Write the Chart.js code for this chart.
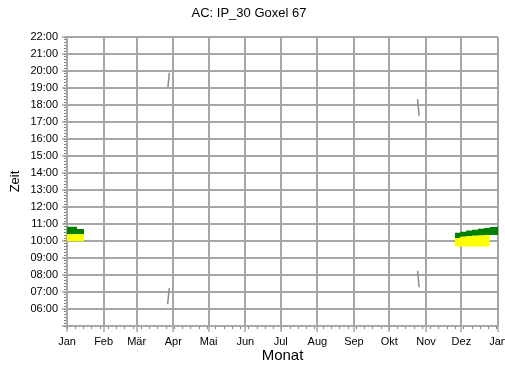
<!DOCTYPE html>
<html>
<head>
<meta charset="utf-8">
<script src="https://cdn.jsdelivr.net/npm/chart.js@4.4.1/dist/chart.umd.min.js"></script>
<style>
  body { margin: 0; background: #fff; }
  canvas { display: block; }
</style>
</head>
<body>
<canvas id="grafico" width="505" height="365"></canvas>
<script>
// Achsen: Tag im Jahr (0..365) gegen Uhrzeit in Stunden
const monatStart = [0, 31, 59, 90, 120, 151, 181, 212, 243, 273, 304, 334, 365];
const monatNamen = ['Jan', 'Feb', 'Mär', 'Apr', 'Mai', 'Jun', 'Jul', 'Aug', 'Sep', 'Okt', 'Nov', 'Dez', 'Jan'];

// Januar-Block
const janTage = [0, 8.5, 13, 14.4];
const janGruenOben = [10.84, 10.84, 10.71, 10.71];
const janGelbOben = [10.39, 10.39, 10.39, 10.39];
const janGelbUnten = [9.81, 9.98, 9.98, 9.98];

// Dezember-Block
const dezTage = [328.5, 333, 338, 343, 348, 353, 358, 363.8, 365];
const dezGruenOben = [10.35, 10.48, 10.55, 10.62, 10.66, 10.72, 10.77, 10.82, 10.84];
const dezGelbOben = [10.1, 10.18, 10.25, 10.28, 10.31, 10.33, 10.35, 10.36, 10.36];
const dezGelbUnten = [9.68, 9.68, 9.68, 9.68, 9.68, 9.68, 9.68, 10.36, 10.36];

// kurze graue Striche (Zeitumstellung)
const aprAbendTage = [85.5, 86.6];
const aprAbend = [19.04, 19.9];
const aprMorgenTage = [85.2, 86.6];
const aprMorgen = [6.28, 7.22];
const oktAbendTage = [296.9, 298.2];
const oktAbend = [18.35, 17.37];
const oktMorgenTage = [296.9, 298.2];
const oktMorgen = [8.24, 7.28];

const GRUEN = '#008000';
const GELB = '#ffff00';
const GRAU = '#8c8c8c';
const GITTER = '#a6a6a6';

Chart.defaults.font.family = "'Liberation Sans', Arial, sans-serif";
Chart.defaults.color = '#000';

const punkte = (xs, ys) => xs.map((x, i) => ({ x: x, y: ys[i] }));

function flaeche(xs, ys, fill, farbe) {
  return {
    data: punkte(xs, ys),
    stepped: 'after',
    fill: fill,
    backgroundColor: farbe,
    borderColor: 'transparent',
    borderWidth: 0,
    pointRadius: 0
  };
}

function strich(xs, ys) {
  return {
    data: punkte(xs, ys),
    fill: false,
    borderColor: GRAU,
    borderWidth: 1.5,
    pointRadius: 0
  };
}

const zweistellig = v => (v < 10 ? '0' : '') + v;

new Chart(document.getElementById('grafico'), {
  type: 'line',
  data: {
    datasets: [
      flaeche(janTage, janGelbUnten, false, 'transparent'),
      flaeche(janTage, janGelbOben, '-1', GELB),
      flaeche(janTage, janGruenOben, '-1', GRUEN),
      flaeche(dezTage, dezGelbUnten, false, 'transparent'),
      flaeche(dezTage, dezGelbOben, '-1', GELB),
      flaeche(dezTage, dezGruenOben, '-1', GRUEN),
      strich(aprAbendTage, aprAbend),
      strich(aprMorgenTage, aprMorgen),
      strich(oktAbendTage, oktAbend),
      strich(oktMorgenTage, oktMorgen)
    ]
  },
  options: {
    responsive: false,
    animation: false,
    layout: { padding: { left: 0, right: 7, top: 0, bottom: 0 } },
    plugins: {
      legend: { display: false },
      tooltip: { enabled: false },
      title: {
        display: true,
        text: 'AC: IP_30 Goxel 67',
        font: { size: 13, weight: 'normal' },
        color: '#000',
        padding: { top: 6, bottom: 15.4 }
      }
    },
    scales: {
      x: {
        type: 'linear',
        position: 'bottom',
        min: 0,
        max: 365,
        weight: 1,
        grid: { color: GITTER, lineWidth: 2, tickLength: 6, tickColor: '#808080', tickWidth: 1 },
        border: { color: GITTER, width: 2 },
        ticks: {
          font: { size: 11 },
          color: '#000',
          padding: 3,
          maxRotation: 0,
          autoSkip: false,
          callback: (v, i) => monatNamen[i]
        },
        title: { display: true, text: 'Monat', font: { size: 15 }, color: '#000', padding: { top: 0, bottom: 0 } },
        afterBuildTicks: s => { s.ticks = monatStart.map(v => ({ value: v })); },
        afterFit: s => { s.height = 39; s.paddingLeft = 0; s.paddingRight = 0; }
      },
      xWoche: {
        type: 'linear',
        position: 'bottom',
        min: 0,
        max: 365,
        weight: 0,
        grid: { drawOnChartArea: false, tickLength: 3, tickColor: '#808080', tickWidth: 1 },
        border: { display: false },
        ticks: { display: false },
        afterBuildTicks: s => {
          const t = [];
          for (let d = 0; d <= 365; d += 7) t.push({ value: d });
          s.ticks = t;
        },
        afterFit: s => { s.height = 0; s.paddingLeft = 0; s.paddingRight = 0; }
      },
      y: {
        type: 'linear',
        position: 'left',
        min: 5,
        max: 22,
        weight: 1,
        grid: { color: GITTER, lineWidth: 2, tickLength: 5, tickColor: '#808080', tickWidth: 1 },
        border: { color: GITTER, width: 2 },
        ticks: {
          font: { size: 11 },
          color: '#000',
          padding: 4,
          stepSize: 1,
          autoSkip: false,
          callback: v => (v === 5 ? '' : zweistellig(v) + ':00')
        },
        title: { display: true, text: 'Zeit', font: { size: 13 }, color: '#000', padding: { top: 7.5, bottom: 0 } },
        afterFit: s => { s.width = 67; s.paddingTop = 0; s.paddingBottom = 0; }
      },
      yMinuten: {
        type: 'linear',
        position: 'left',
        min: 5,
        max: 22,
        weight: 0,
        grid: { drawOnChartArea: false, tickLength: 3, tickColor: '#808080', tickWidth: 1 },
        border: { display: false },
        ticks: { display: false },
        afterBuildTicks: s => {
          const t = [];
          for (let m = 5 * 6; m <= 22 * 6; m++) t.push({ value: m / 6 });
          s.ticks = t;
        },
        afterFit: s => { s.width = 0; s.paddingTop = 0; s.paddingBottom = 0; }
      }
    }
  }
});
</script>
</body>
</html>
